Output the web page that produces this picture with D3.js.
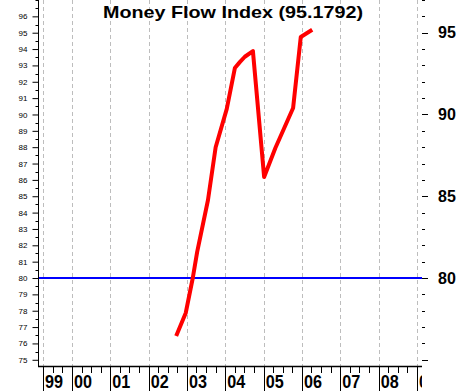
<!DOCTYPE html>
<html>
<head>
<meta charset="utf-8">
<script src="https://cdn.jsdelivr.net/npm/d3@7/dist/d3.min.js"></script>
<style>
  body { margin: 0; background: #fff; }
  svg { display: block; font-family: "Liberation Sans", Arial, sans-serif; }
</style>
</head>
<body>
<div class="chart"></div>
<script>
// Chart data
var mfiDates = ["2002-09-20", "2002-12-20", "2003-02-25", "2003-04-08", "2003-07-20",
  "2003-10-01", "2004-01-15", "2004-04-01", "2004-05-18", "2004-07-05", "2004-09-20",
  "2005-01-05", "2005-04-22", "2005-10-08", "2005-12-20", "2006-04-08"];
var mfiValues = [76.45, 77.86, 80.0, 81.6, 84.77, 88.0, 90.34, 92.84, 93.2, 93.53, 93.88,
  86.18, 87.95, 90.4, 94.74, 95.1792];
var signalLevel = 80;
var yearLabels = ["99", "00", "01", "02", "03", "04", "05", "06", "07", "08", "09"];
var yearDates = ["1999-04-01", "2000-01-01", "2001-01-01", "2002-01-01", "2003-01-01",
  "2004-01-01", "2005-01-01", "2006-01-01", "2007-01-01", "2008-01-01", "2009-01-01"];
var leftTickLabels = [75, 76, 77, 78, 79, 80, 81, 82, 83, 84, 85, 86, 87, 88, 89, 90, 91, 92, 93, 94, 95, 96];
var rightTickLabels = [80, 85, 90, 95];
var titleText = "Money Flow Index (95.1792)";

// SVG area
var svgWidth = 460;
var svgHeight = 391;
var plot = { left: 39, right: 422, top: 0, bottom: 366 };

var parseDate = d3.timeParse("%Y-%m-%d");

var svg = d3.select(".chart")
  .append("svg")
  .attr("width", svgWidth)
  .attr("height", svgHeight);

svg.append("defs").append("clipPath")
  .attr("id", "plotClip")
  .append("rect")
  .attr("x", plot.left)
  .attr("y", 0)
  .attr("width", plot.right - plot.left)
  .attr("height", svgHeight);

// Scales
var xScale = d3.scaleTime()
  .domain([parseDate("1999-02-21"), parseDate("2009-02-17")])
  .range([plot.left, plot.right]);

var yScale = d3.scaleLinear()
  .domain([74.62, 97.0])
  .range([plot.bottom, plot.top]);

// Vertical dashed grid at the year lines
svg.append("g")
  .selectAll("line")
  .data(yearDates)
  .enter()
  .append("line")
  .attr("x1", d => Math.round(xScale(parseDate(d))) + 0.5)
  .attr("x2", d => Math.round(xScale(parseDate(d))) + 0.5)
  .attr("y1", plot.top)
  .attr("y2", plot.bottom)
  .attr("stroke", "#bdbdbd")
  .attr("stroke-width", 1)
  .attr("stroke-dasharray", "4,3");

// Left axis: labelled integers, half-unit minor ticks
var leftAxis = d3.axisLeft(yScale)
  .tickValues(leftTickLabels)
  .tickSize(6)
  .tickPadding(5)
  .tickFormat(d3.format("d"));

var leftG = svg.append("g")
  .attr("transform", `translate(${plot.left - 0.5}, 0)`)
  .call(leftAxis);
leftG.select(".domain").remove();
leftG.selectAll("text")
  .attr("font-size", "8px")
  .attr("font-family", "Liberation Sans, Arial, sans-serif")
  .attr("fill", "#000");

var minorVals = d3.range(75.5, 97.1, 1).concat([97]);
leftG.selectAll(".minor")
  .data(minorVals)
  .enter()
  .append("line")
  .attr("class", "minor")
  .attr("x1", -3)
  .attr("x2", 0)
  .attr("y1", d => Math.round(yScale(d)) + 0.5)
  .attr("y2", d => Math.round(yScale(d)) + 0.5)
  .attr("stroke", "#000");

svg.append("line")
  .attr("x1", plot.left - 0.5)
  .attr("x2", plot.left - 0.5)
  .attr("y1", plot.top)
  .attr("y2", plot.bottom + 1)
  .attr("stroke", "#000");

// Right axis: ticks every unit, bold labels every five
var rightVals = d3.range(75, 98, 1);
var rightG = svg.append("g")
  .attr("transform", `translate(${plot.right}, 0)`);
rightG.selectAll("line")
  .data(rightVals)
  .enter()
  .append("line")
  .attr("x1", 0)
  .attr("x2", d => d % 5 === 0 ? 6 : 3)
  .attr("y1", d => Math.round(yScale(d)) + 0.5)
  .attr("y2", d => Math.round(yScale(d)) + 0.5)
  .attr("stroke", "#000");
rightG.selectAll("text")
  .data(rightTickLabels)
  .enter()
  .append("text")
  .attr("x", 16)
  .attr("y", d => yScale(d))
  .attr("dy", "0.36em")
  .attr("font-size", "16px")
  .attr("font-weight", "bold")
  .attr("fill", "#000")
  .text(d => d);

// Bottom axis
svg.append("line")
  .attr("x1", plot.left - 1)
  .attr("x2", plot.right)
  .attr("y1", plot.bottom + 0.5)
  .attr("y2", plot.bottom + 0.5)
  .attr("stroke", "#000")
  .attr("stroke-width", 1.5);

var bottomG = svg.append("g")
  .attr("clip-path", "url(#plotClip)");

var quarterDates = d3.timeMonth.every(3).range(xScale.domain()[0], xScale.domain()[1]);
bottomG.selectAll(".qtick")
  .data(quarterDates)
  .enter()
  .append("line")
  .attr("class", "qtick")
  .attr("x1", d => Math.round(xScale(d)) + 0.5)
  .attr("x2", d => Math.round(xScale(d)) + 0.5)
  .attr("y1", plot.bottom)
  .attr("y2", plot.bottom + 7)
  .attr("stroke", "#000");

bottomG.selectAll(".ytick")
  .data(yearDates)
  .enter()
  .append("line")
  .attr("class", "ytick")
  .attr("x1", d => Math.round(xScale(parseDate(d))) + 0.5)
  .attr("x2", d => Math.round(xScale(parseDate(d))) + 0.5)
  .attr("y1", plot.bottom)
  .attr("y2", svgHeight)
  .attr("stroke", "#000");

bottomG.selectAll(".ylabel")
  .data(yearLabels)
  .enter()
  .append("text")
  .attr("class", "ylabel")
  .attr("x", (d, i) => xScale(parseDate(yearDates[i])) + 2)
  .attr("y", 388)
  .attr("font-size", "18px")
  .attr("font-weight", "bold")
  .attr("textLength", 18)
  .attr("lengthAdjust", "spacingAndGlyphs")
  .attr("fill", "#000")
  .text(d => d);

// Blue 80 level line
svg.append("line")
  .attr("x1", plot.left)
  .attr("x2", plot.right)
  .attr("y1", yScale(signalLevel))
  .attr("y2", yScale(signalLevel))
  .attr("stroke", "#0000ff")
  .attr("stroke-width", 2);

// Money Flow Index line
var mfiData = mfiDates.map(function(d, i) {
  return { date: parseDate(d), value: mfiValues[i] };
});

var line = d3.line()
  .x(d => xScale(d.date))
  .y(d => yScale(d.value));

svg.append("path")
  .datum(mfiData)
  .attr("d", line)
  .attr("fill", "none")
  .attr("stroke", "#ff0000")
  .attr("stroke-width", 4)
  .attr("stroke-linejoin", "round");

// Title
svg.append("text")
  .attr("x", 233)
  .attr("y", 18)
  .attr("text-anchor", "middle")
  .attr("font-size", "17px")
  .attr("font-weight", "bold")
  .attr("textLength", 260)
  .attr("lengthAdjust", "spacingAndGlyphs")
  .attr("fill", "#000")
  .text(titleText);
</script>
</body>
</html>
